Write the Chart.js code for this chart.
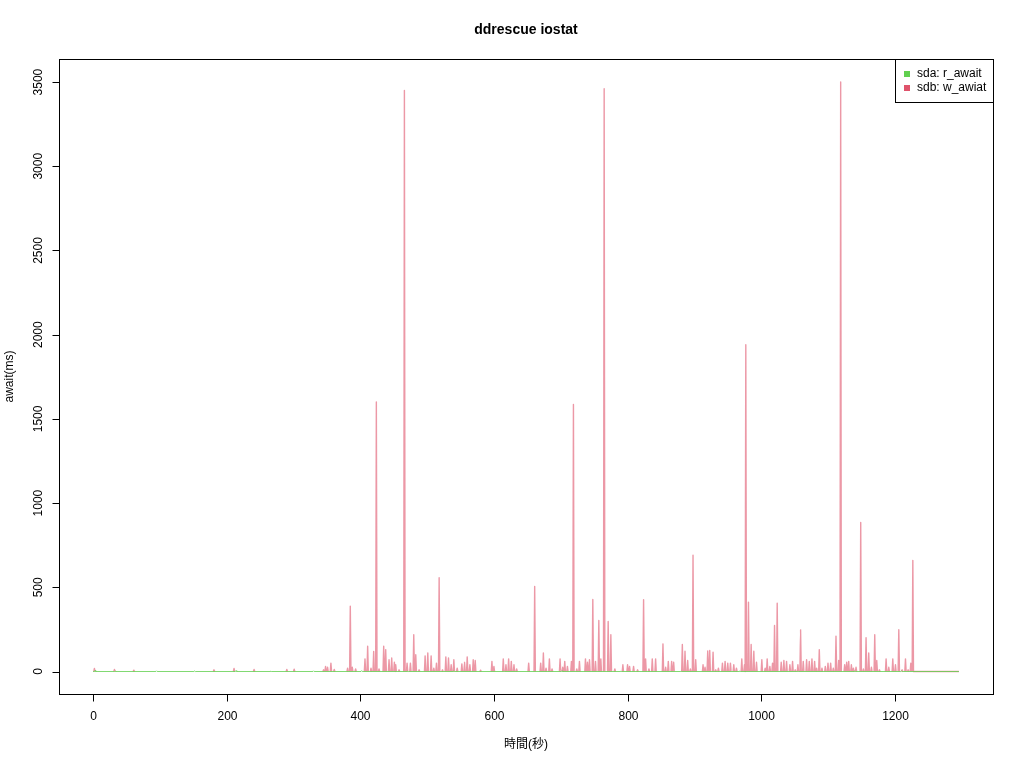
<!DOCTYPE html>
<html>
<head>
<meta charset="utf-8">
<script src="https://cdn.jsdelivr.net/npm/chart.js@4"></script>
<style>
  html, body { margin: 0; padding: 0; background: #fff; }
  #wrap { width: 1024px; height: 768px; }
</style>
</head>
<body>
<div id="wrap"><canvas id="iostatChart" width="1024" height="768"></canvas></div>
<script>
// time axis (seconds)
const timeStart = 0;
const timeEnd = 1296;
const xTicks = [0, 200, 400, 600, 800, 1000, 1200];
const yTicks = [0, 500, 1000, 1500, 2000, 2500, 3000, 3500];

// sdb: w_awiat - spikes (time, ms)
const sdbTimes = [2, 32, 61, 181, 211, 241, 290, 301, 345, 348, 351, 356, 361, 381, 385, 388, 393,
  407, 411, 416, 420, 424, 428, 435, 438, 443, 447, 451, 453, 458, 466, 470, 475, 480, 483, 488,
  497, 501, 506, 510, 514, 518, 523, 528, 532, 536, 540, 545, 552, 556, 560, 564, 569, 572, 580,
  597, 600, 614, 618, 622, 626, 630, 634, 652, 661, 670, 674, 678, 683, 687, 699, 703, 706, 710,
  716, 719, 724, 728, 737, 740, 743, 748, 752, 757, 760, 765, 771, 775, 781, 793, 800, 803, 809,
  815, 824, 827, 832, 837, 842, 853, 857, 861, 866, 869, 882, 886, 890, 894, 898, 902, 913, 916,
  920, 923, 928, 932, 936, 942, 946, 950, 954, 959, 963, 971, 975, 977, 981, 985, 989, 993, 1001,
  1006, 1009, 1013, 1017, 1020, 1024, 1030, 1034, 1038, 1043, 1047, 1051, 1055, 1059, 1063, 1068,
  1072, 1076, 1080, 1083, 1087, 1091, 1096, 1100, 1104, 1108, 1112, 1116, 1119, 1125, 1128, 1131,
  1135, 1138, 1142, 1149, 1153, 1157, 1161, 1165, 1170, 1173, 1177, 1187, 1191, 1197, 1201, 1206,
  1211, 1216, 1220, 1224, 1227];
const sdbValues = [18, 12, 8, 10, 18, 12, 12, 14, 10, 30, 25, 50, 12, 20, 388, 25, 15,
  75, 150, 20, 119, 1600, 15, 150, 130, 70, 80, 55, 40, 10, 3450, 50, 50, 218, 100, 10,
  93, 110, 93, 20, 50, 557, 10, 87, 80, 40, 70, 20, 45, 55, 87, 40, 70, 65, 8,
  60, 30, 75, 40, 75, 60, 40, 15, 50, 505, 50, 110, 20, 75, 15, 75, 25, 60, 30,
  60, 1585, 15, 60, 75, 55, 70, 428, 60, 303, 75, 3460, 297, 218, 15, 40, 40, 30, 30,
  10, 426, 75, 15, 75, 75, 164, 25, 60, 60, 55, 160, 120, 65, 15, 690, 70, 40, 25,
  122, 125, 115, 10, 20, 50, 60, 50, 50, 40, 20, 75, 40, 1940, 412, 160, 120, 55, 70,
  20, 75, 30, 50, 273, 406, 55, 65, 60, 40, 60, 10, 40, 248, 60, 70,
  60, 75, 60, 20, 130, 20, 30, 50, 50, 20, 210, 65, 3500, 40, 55, 60,
  40, 20, 25, 885, 15, 200, 110, 25, 218, 65, 10, 75, 25, 75, 40, 248,
  10, 75, 10, 50, 660];
// after the last spike sdb sits at zero until the end
const sdbFlatFrom = 1228;

// sda: r_await - stays near zero
const sdaTimes = [3, 33, 95, 152, 214, 266, 330, 402, 471, 540, 615, 702, 790, 880, 968, 1055, 1140, 1210];
const sdaValues = [6, 3, 4, 3, 5, 3, 4, 5, 3, 4, 3, 4, 3, 3, 4, 3, 4, 3];

// spikes on a zero baseline; gaps between spikes when withGaps is set
function buildSeries(times, values, withGaps) {
  const pts = withGaps ? [] : [{ x: timeStart, y: 0 }];
  for (let i = 0; i < times.length; i++) {
    const t = times[i];
    const last = pts.length ? pts[pts.length - 1].x : -Infinity;
    if (last < t - 1) {
      if (withGaps && pts.length) pts.push({ x: last + 0.5, y: null });
      pts.push({ x: t - 1, y: 0 });
    }
    pts.push({ x: t, y: values[i] });
    const next = i + 1 < times.length ? times[i + 1] : timeEnd + 2;
    if (next > t + 1) pts.push({ x: t + 1, y: 0 });
  }
  pts.push({ x: timeEnd, y: 0 });
  return pts;
}

const FONT = '"Liberation Sans", Arial, "Noto Sans CJK JP", sans-serif';

// draws the R style frame, axes, labels and legend
const rFrame = {
  id: 'rFrame',
  afterDraw(chart) {
    const c = chart.ctx;
    const a = chart.chartArea;
    const xs = chart.scales.x;
    const ys = chart.scales.y;
    c.save();
    c.strokeStyle = '#000';
    c.fillStyle = '#000';
    c.lineWidth = 1;

    // box
    c.strokeRect(Math.round(a.left) + 0.5, Math.round(a.top) + 0.5,
      Math.round(a.right - a.left), Math.round(a.bottom - a.top));

    // x axis
    const xl = xs.getPixelForValue(xTicks[0]);
    const xr = xs.getPixelForValue(xTicks[xTicks.length - 1]);
    const yb = Math.round(a.bottom) + 0.5;
    c.beginPath();
    c.moveTo(xl, yb); c.lineTo(xr, yb);
    c.font = '12px ' + FONT;
    c.textAlign = 'center';
    c.textBaseline = 'middle';
    xTicks.forEach(function(v) {
      const px = Math.round(xs.getPixelForValue(v)) + 0.5;
      c.moveTo(px, yb); c.lineTo(px, yb + 7);
      c.fillText(String(v), px, yb + 22);
    });
    c.stroke();

    // y axis
    const yt = ys.getPixelForValue(yTicks[yTicks.length - 1]);
    const y0 = ys.getPixelForValue(yTicks[0]);
    const xa = Math.round(a.left) + 0.5;
    c.beginPath();
    c.moveTo(xa, y0); c.lineTo(xa, yt);
    yTicks.forEach(function(v) {
      const py = Math.round(ys.getPixelForValue(v)) + 0.5;
      c.moveTo(xa, py); c.lineTo(xa - 7, py);
    });
    c.stroke();
    yTicks.forEach(function(v) {
      const py = ys.getPixelForValue(v);
      c.save();
      c.translate(xa - 21, py);
      c.rotate(-Math.PI / 2);
      c.fillText(String(v), 0, 0);
      c.restore();
    });

    // titles
    const cx = (a.left + a.right) / 2;
    c.font = 'bold 14px ' + FONT;
    c.fillText('ddrescue iostat', cx, 30);
    c.font = '12px ' + FONT;
    c.fillText('時間(秒)', cx, 745);
    c.save();
    c.translate(10, (a.top + a.bottom) / 2);
    c.rotate(-Math.PI / 2);
    c.fillText('await(ms)', 0, 0);
    c.restore();

    // legend
    const lw = 98, lh = 43;
    const lx = Math.round(a.right) - lw;
    const ly = Math.round(a.top);
    c.fillStyle = '#fff';
    c.fillRect(lx, ly, lw, lh);
    c.strokeRect(lx + 0.5, ly + 0.5, lw, lh);
    const items = [
      { label: 'sda: r_await', color: '#61D04F' },
      { label: 'sdb: w_awiat', color: '#DF536B' }
    ];
    c.textAlign = 'left';
    items.forEach(function(it, i) {
      const ry = ly + 15 + i * 14;
      c.fillStyle = it.color;
      c.fillRect(lx + 9, ry - 3, 6, 6);
      c.fillStyle = '#000';
      c.fillText(it.label, lx + 22, ry);
    });
    c.restore();
  }
};

const sdbData = buildSeries(sdbTimes, sdbValues, true);
// join the tail so the zero stretch after the last spike is continuous
sdbData.splice(sdbData.length - 1, 0, { x: sdbFlatFrom, y: 0 });

new Chart(document.getElementById('iostatChart'), {
  type: 'line',
  data: {
    datasets: [
      {
        label: 'sda: r_await',
        data: buildSeries(sdaTimes, sdaValues, false),
        borderColor: 'rgba(97, 208, 79, 0.8)',
        borderWidth: 1,
        pointRadius: 0,
        tension: 0,
        fill: false
      },
      {
        label: 'sdb: w_awiat',
        data: sdbData,
        borderColor: 'rgba(223, 83, 107, 0.6)',
        borderWidth: 1.4,
        borderJoinStyle: 'round',
        pointRadius: 0,
        tension: 0.000001,
        fill: false,
        spanGaps: false
      }
    ]
  },
  options: {
    responsive: false,
    animation: false,
    layout: { padding: { left: 59, top: 59, right: 31, bottom: 74 } },
    plugins: {
      legend: { display: false },
      tooltip: { enabled: false },
      title: { display: false }
    },
    scales: {
      x: { type: 'linear', display: false, min: -51, max: 1347 },
      y: { type: 'linear', display: false, min: -133.6, max: 3637 }
    }
  },
  plugins: [rFrame]
});
</script>
</body>
</html>
